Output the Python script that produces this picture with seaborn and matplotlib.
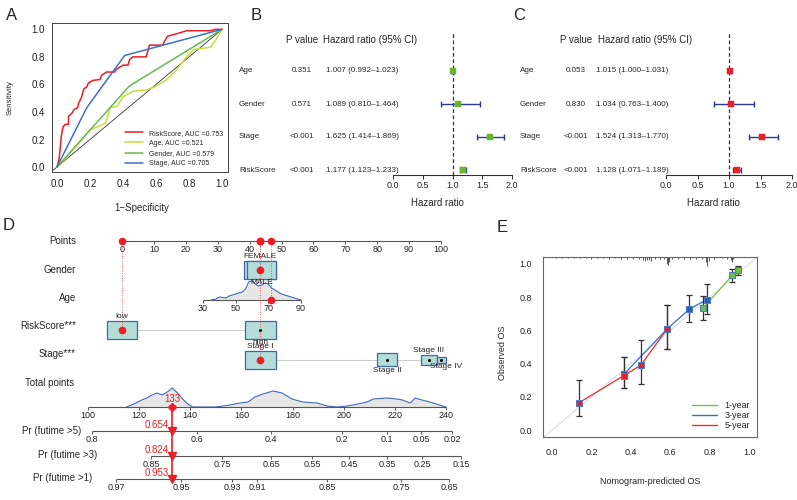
import numpy as np
import pandas as pd
import matplotlib
matplotlib.use('Agg')
import matplotlib.pyplot as plt
from matplotlib.patches import Rectangle
import seaborn as sns

sns.set_theme(style='white')
plt.rcParams['font.family'] = ['Liberation Sans', 'DejaVu Sans']

W, H = 797, 500

# ---------------- data: A (ROC curves) ----------------
roc_risk_fpr = [0, 0.012, 0.02, 0.026, 0.036, 0.05, 0.07, 0.07, 0.09, 0.105, 0.125, 0.13, 0.14, 0.15,
                0.158, 0.165, 0.18, 0.19, 0.22, 0.26, 0.27, 0.30, 0.35, 0.36, 0.40, 0.43, 0.44, 0.46,
                0.54, 0.55, 0.56, 0.64, 0.65, 0.67, 0.70, 0.745, 0.785, 0.93, 0.96, 1.0]
roc_risk_tpr = [0, 0.05, 0.14, 0.22, 0.29, 0.31, 0.31, 0.37, 0.39, 0.42, 0.43, 0.46, 0.485, 0.51,
                0.55, 0.57, 0.58, 0.61, 0.63, 0.635, 0.665, 0.69, 0.69, 0.71, 0.74, 0.74, 0.78, 0.80,
                0.80, 0.84, 0.885, 0.885, 0.91, 0.95, 0.96, 0.975, 0.99, 0.99, 1.0, 1.0]
roc_age_fpr = [0, 0.05, 0.10, 0.15, 0.20, 0.26, 0.29, 0.31, 0.32, 0.36, 0.37, 0.40, 0.46, 0.54,
               0.58, 0.66, 0.72, 0.785, 0.83, 0.87, 0.93, 0.96, 1.0]
roc_age_tpr = [0, 0.06, 0.13, 0.20, 0.27, 0.30, 0.315, 0.37, 0.43, 0.44, 0.45, 0.51, 0.55, 0.56,
               0.575, 0.63, 0.70, 0.80, 0.855, 0.86, 0.87, 0.92, 1.0]
roc_gender_fpr = [0, 0.44, 1.0]
roc_gender_tpr = [0, 0.59, 1.0]
roc_stage_fpr = [0, 0.18, 0.41, 1.0]
roc_stage_tpr = [0, 0.43, 0.81, 1.0]
roc_names = ['RiskScore, AUC =0.753', 'Age, AUC =0.521', 'Gender, AUC =0.579', 'Stage, AUC =0.705']
roc_colors = ['#ec1c24', '#c8dc3c', '#66bb4a', '#3a72c4']

# ---------------- data: B / C (Cox forest plots) ----------------
variables = ['Age', 'Gender', 'Stage', 'RiskScore']
uni_p = ['0.351', '0.571', '<0.001', '<0.001']
uni_hr = [1.007, 1.089, 1.625, 1.177]
uni_lo = [0.992, 0.810, 1.414, 1.123]
uni_hi = [1.023, 1.464, 1.869, 1.233]
multi_p = ['0.053', '0.830', '<0.001', '<0.001']
multi_hr = [1.015, 1.034, 1.524, 1.128]
multi_lo = [1.000, 0.763, 1.313, 1.071]
multi_hi = [1.031, 1.400, 1.770, 1.189]

# ---------------- data: D (nomogram) ----------------
points_ticks = list(range(0, 101, 10))
gender_levels = ['FEMALE', 'MALE']
gender_pts = [43.3, 43.8]
gender_w = [10.0, 9.0]
age_ticks = [30, 50, 70, 90]
age_dens_x = [35, 38, 40, 42, 44, 46, 48, 50, 52, 54, 56, 58, 60, 62, 64, 66, 68, 70, 72, 74,
              76, 78, 80, 82, 84, 86, 88, 90]
age_dens_h = [0, 1, 3, 2.5, 2, 4, 5, 6, 7, 8, 11, 18, 19, 16, 14, 15, 17, 16, 12, 10,
              8, 6, 5, 4, 3, 2, 1, 0]
risk_levels = ['low', 'high']
risk_pts = [0.0, 43.3]
risk_w = [9.4, 9.7]
stage_levels = ['Stage I', 'Stage II', 'Stage III', 'Stage IV']
stage_pts = [43.3, 83.1, 96.2, 100.1]
stage_w = [9.7, 6.3, 5.0, 2.8]
stage_h = [18, 13, 10, 6]
total_ticks = list(range(100, 241, 20))
total_dens_x = [115, 118, 121, 123, 125, 127, 129, 131, 133, 135, 137, 139, 141, 150, 153, 155.5,
                159.4, 162.6, 165.3, 168.4, 172.4, 175.9, 179.8, 184, 189.6, 193.5, 197.4, 201.3,
                205.6, 209.1, 211.6, 217, 220.8, 223, 226, 228, 230.6, 233.7, 238.8, 240]
total_dens_h = [0, 3, 7, 9, 12, 14, 12, 15, 19, 14, 8, 3, 0, 0, 1, 2,
                4, 5, 10, 13, 16, 14, 8, 5, 4, 1, 0, 1,
                3, 5, 8, 9, 8, 7, 4, 9, 7, 5, 1, 0]
pr5_labels = ['0.8', '0.6', '0.4', '0.2', '0.1', '0.05', '0.02']
pr5_at = [101.6, 142.6, 171.6, 199.3, 216.9, 230.2, 242.4]
pr3_labels = ['0.85', '0.75', '0.65', '0.55', '0.45', '0.35', '0.25', '0.15']
pr3_at = [124.6, 152.4, 171.6, 187.6, 202.1, 216.9, 230.6, 245.9]
pr1_labels = ['0.97', '0.95', '0.93', '0.91', '0.85', '0.75', '0.65']
pr1_at = [111.0, 136.4, 156.3, 166.1, 193.5, 222.4, 241.2]
patient_age = 71.5
patient_total = 133
patient_pr = ['0.654', '0.824', '0.953']

# ---------------- data: E (calibration) ----------------
cal_1y_x = [0.767, 0.915, 0.945]
cal_1y_y = [0.735, 0.932, 0.962]
cal_1y_lo = [0.665, 0.89, 0.935]
cal_1y_hi = [0.805, 0.972, 0.99]
cal_3y_x = [0.365, 0.585, 0.695, 0.785]
cal_3y_y = [0.336, 0.61, 0.726, 0.786]
cal_3y_lo = [0.255, 0.49, 0.65, 0.70]
cal_3y_hi = [0.44, 0.755, 0.815, 0.882]
cal_5y_x = [0.135, 0.365, 0.45, 0.585]
cal_5y_y = [0.163, 0.328, 0.39, 0.61]
cal_5y_lo = [0.085, 0.255, 0.277, 0.49]
cal_5y_hi = [0.30, 0.44, 0.545, 0.755]
spike_x = [0.02, 0.05, 0.08, 0.11, 0.14, 0.17, 0.20, 0.23, 0.26, 0.29, 0.32, 0.35, 0.38, 0.41,
           0.44, 0.46, 0.47, 0.48, 0.49, 0.50, 0.52, 0.55, 0.57, 0.585, 0.59, 0.595, 0.61, 0.64,
           0.67, 0.70, 0.73, 0.76, 0.78, 0.787, 0.795, 0.82, 0.86, 0.89, 0.91, 0.915, 0.92]
spike_h = [0.008, 0.006, 0.008, 0.006, 0.008, 0.006, 0.01, 0.006, 0.008, 0.01, 0.008, 0.01, 0.012, 0.01,
           0.015, 0.02, 0.025, 0.02, 0.018, 0.022, 0.012, 0.01, 0.015, 0.04, 0.05, 0.03, 0.012, 0.01,
           0.012, 0.015, 0.01, 0.012, 0.03, 0.055, 0.025, 0.01, 0.008, 0.01, 0.02, 0.03, 0.015]


def rect(l, t, r, b):
    return [l / W, 1 - b / H, (r - l) / W, (b - t) / H]


def ftext(x, y, s, **kw):
    fig.text(x / W, 1 - y / H, s, **kw)


fig = plt.figure(figsize=(W / 100, H / 100), dpi=100)

for lab, x, y in [('A', 6, 15), ('B', 251, 15), ('C', 513, 15), ('D', 3, 226), ('E', 497, 228)]:
    ftext(x, y, lab, fontsize=12, ha='left', va='center')

# ================= A =================
ax = fig.add_axes(rect(52, 23, 228, 172))
roc = pd.concat([
    pd.DataFrame({'fpr': f, 'tpr': t, 'curve': n})
    for f, t, n in zip([roc_risk_fpr, roc_age_fpr, roc_gender_fpr, roc_stage_fpr],
                       [roc_risk_tpr, roc_age_tpr, roc_gender_tpr, roc_stage_tpr], roc_names)
])
ax.plot([-0.05, 1], [-0.05, 1], color='#333333', lw=0.6)
sns.lineplot(data=roc, x='fpr', y='tpr', hue='curve', palette=dict(zip(roc_names, roc_colors)),
             sort=False, estimator=None, lw=1.1, ax=ax)
ax.set_xlim(-0.03, 1.036)
ax.set_ylim(-0.036, 1.046)
ticks = [0, 0.2, 0.4, 0.6, 0.8, 1.0]
ax.set_xticks(ticks)
ax.set_yticks(ticks)
ax.set_xticklabels(['%.1f' % t for t in ticks], fontsize=7)
ax.set_yticklabels(['%.1f' % t for t in ticks], fontsize=7)
ax.tick_params(direction='out', length=3, width=0.6, pad=2, colors='#222222')
for s in ax.spines.values():
    s.set_linewidth(0.7)
    s.set_color('#444444')
ax.set_xlabel('1\u2212Specificity', fontsize=7)
ax.set_ylabel('Sensitivity', fontsize=5.5)
ax.xaxis.set_label_coords(0.51, -0.21)
ax.yaxis.set_label_coords(-0.22, 0.5)
leg = ax.legend(loc='lower right', fontsize=5, frameon=False, handlelength=2.6,
                labelspacing=0.45, borderaxespad=0.3, handletextpad=0.8)
for l in leg.get_lines():
    l.set_linewidth(1.1)


# ================= B / C =================
def forest(x_lab, x_p, x_hr, x_head, ax_l, ax_r, p, hr, lo, hi, color):
    rows_y = [71, 104, 137, 170]
    ftext(x_p, 40, 'P value', fontsize=7, ha='center', va='center')
    ftext(x_head, 40, 'Hazard ratio (95% CI)', fontsize=7, ha='left', va='center')
    for v, pv, h, a, b, ry in zip(variables, p, hr, lo, hi, rows_y):
        ftext(x_lab, ry, v, fontsize=5.8, ha='left', va='center')
        ftext(x_p, ry, pv, fontsize=5.8, ha='center', va='center')
        ftext(x_hr, ry, '%.3f (%.3f\u2013%.3f)' % (h, a, b), fontsize=5.8, ha='left', va='center')
    axf = fig.add_axes(rect(ax_l, 33, ax_r, 175))
    rows = np.arange(len(variables))
    axf.set_xlim(0, 2)
    axf.set_ylim(3.15, -1.15)
    axf.axvline(1, color='#333333', ls=(0, (3, 2)), lw=0.9)
    hr_a, lo_a, hi_a = np.array(hr), np.array(lo), np.array(hi)
    axf.errorbar(hr_a, rows, xerr=[hr_a - lo_a, hi_a - hr_a], fmt='none', ecolor='#2b3a8c',
                 elinewidth=1.0, capsize=2.2, capthick=1.0)
    sns.scatterplot(x=hr, y=rows, marker='s', color=color, edgecolor=color, s=18, ax=axf,
                    zorder=5, legend=False)
    for s in ['top', 'right', 'left']:
        axf.spines[s].set_visible(False)
    axf.spines['bottom'].set_linewidth(0.8)
    axf.spines['bottom'].set_color('#333333')
    axf.set_yticks([])
    axf.set_xticks([0, 0.5, 1.0, 1.5, 2.0])
    axf.set_xticklabels(['0.0', '0.5', '1.0', '1.5', '2.0'], fontsize=6.5)
    axf.tick_params(axis='x', direction='out', length=3, width=0.7, pad=1.5, bottom=True)
    axf.set_xlabel('Hazard ratio', fontsize=7)
    axf.xaxis.set_label_coords(0.375, -0.165)
    axf.patch.set_alpha(0)


forest(239, 302, 326, 323, 393, 512, uni_p, uni_hr, uni_lo, uni_hi, '#6ab42f')
forest(520, 576, 596, 598, 666, 792, multi_p, multi_hr, multi_lo, multi_hi, '#e8202a')

# ================= D (nomogram) =================
axd = fig.add_axes(rect(0, 222, 470, 500))
axd.set_xlim((0 - 122) / 3.19, (470 - 122) / 3.19)
axd.set_ylim(500, 222)
axd.axis('off')


def px2pts(px):
    return (px - 122) / 3.19


def total_x(tp):
    return px2pts(88 + (np.asarray(tp, dtype=float) - 100) * 2.557)


def age_x(age):
    return 25.39 + (np.asarray(age, dtype=float) - 30) * 0.512


axis_c = '#555555'
box_fc = '#b3ddd6'
box_ec = '#3f68b3'
red = '#ee1c25'
tfs = 6.5


def nomo_axis(y, xs, labels, lo=None, hi=None):
    lo = min(xs) if lo is None else lo
    hi = max(xs) if hi is None else hi
    axd.hlines(y, lo, hi, color=axis_c, lw=0.8)
    axd.vlines(xs, y, y + 3, color=axis_c, lw=0.7)
    for x, lab in zip(xs, labels):
        axd.text(x, y + 4, lab, fontsize=tfs, ha='center', va='top', color='#222222')


def box(c, w, y, h, label=None, side='above', dot=False, dx=0):
    axd.add_patch(Rectangle((c - w / 2, y - h / 2), w, h, fc=box_fc, ec=box_ec, lw=0.9, zorder=3))
    if dot:
        axd.plot(c, y, marker='o', ms=1.2, color='black', zorder=4)
    if label:
        if side == 'above':
            axd.text(c + dx, y - h / 2 - 0.5, label, fontsize=6, ha='center', va='bottom', zorder=5)
        else:
            axd.text(c + dx, y + h / 2 + 0.3, label, fontsize=6, ha='center', va='top', zorder=5)


row_lab_x = px2pts(76)
y_points, y_gender, y_age, y_risk, y_stage = 241, 270, 300, 330, 360
y_total, y_pr5, y_pr3, y_pr1 = 407, 431, 456, 479

axd.text(row_lab_x, y_points, 'Points', fontsize=7, ha='right', va='center')
axd.text(row_lab_x, y_gender, 'Gender', fontsize=7, ha='right', va='center')
axd.text(row_lab_x, y_age - 2, 'Age', fontsize=7, ha='right', va='center')
axd.text(row_lab_x, y_risk - 4, 'RiskScore***', fontsize=7, ha='right', va='center')
axd.text(row_lab_x, y_stage - 6, 'Stage***', fontsize=7, ha='right', va='center')
axd.text(px2pts(25), 383, 'Total points', fontsize=7, ha='left', va='center')
axd.text(px2pts(81), y_pr5, 'Pr (futime >5)', fontsize=7, ha='right', va='center')
axd.text(px2pts(97), y_pr3 - 1, 'Pr (futime >3)', fontsize=7, ha='right', va='center')
axd.text(px2pts(92), y_pr1 - 1, 'Pr (futime >1)', fontsize=7, ha='right', va='center')

# points axis
nomo_axis(y_points, points_ticks, [str(t) for t in points_ticks])

# age density + axis
ax_x = age_x(age_dens_x)
axd.fill_between(ax_x, y_age, y_age - np.array(age_dens_h), color='#e6e6e6', lw=0, zorder=1)
axd.plot(ax_x, y_age - np.array(age_dens_h), color='#4169b8', lw=0.8, zorder=2)
nomo_axis(y_age, age_x(age_ticks), [str(t) for t in age_ticks])

# gender boxes
box(gender_pts[0], gender_w[0], y_gender, 18, gender_levels[0], 'above')
box(gender_pts[1], gender_w[1], y_gender, 18, gender_levels[1], 'below')

# risk score
axd.hlines(y_risk, risk_pts[0], risk_pts[1], color='#cccccc', lw=0.8, zorder=1)
box(risk_pts[0], risk_w[0], y_risk, 18, risk_levels[0], 'above')
box(risk_pts[1], risk_w[1], y_risk, 18, risk_levels[1], 'below', dot=True)

# stage
axd.hlines(y_stage, stage_pts[0], stage_pts[-1], color='#cccccc', lw=0.8, zorder=1)
sides = ['above', 'below', 'above', 'below']
for i, (lv, c, w, h, sd) in enumerate(zip(stage_levels, stage_pts, stage_w, stage_h, sides)):
    box(c, w, y_stage, h, lv, sd, dot=(i > 0), dx=(1.5 if i == 3 else 0))

# total points
tx = total_x(total_dens_x)
axd.fill_between(tx, y_total, y_total - np.array(total_dens_h), color='#e6e6e6', lw=0, zorder=1)
axd.plot(tx, y_total - np.array(total_dens_h), color='#4169b8', lw=0.8, zorder=2)
nomo_axis(y_total, total_x(total_ticks), [str(t) for t in total_ticks])

# probability axes
nomo_axis(y_pr5, total_x(pr5_at), pr5_labels)
nomo_axis(y_pr3, total_x(pr3_at), pr3_labels)
nomo_axis(y_pr1, total_x(pr1_at), pr1_labels)

# patient
pat_pts = [gender_pts[0], float(age_x(patient_age)), risk_pts[0], stage_pts[0]]
pat_rows = [y_gender, y_age, y_risk, y_stage]
for p_, r_ in zip(pat_pts, pat_rows):
    axd.vlines(p_, y_points, r_, color=red, lw=0.7, ls=(0, (1, 1.5)), alpha=0.7, zorder=4)
    axd.plot(p_, r_, 'o', color=red, ms=4.5, zorder=6)
    axd.plot(p_, y_points, 'o', color=red, ms=4.5, zorder=6)
xt = float(total_x(patient_total))
axd.vlines(xt, y_total, y_pr1, color=red, lw=1.2, zorder=5)
axd.plot(xt, y_total, 'D', color=red, ms=4, zorder=6)
axd.text(xt, y_total - 3, str(patient_total), color=red, fontsize=7, ha='center', va='bottom', zorder=7)
for yy, pv in zip([y_pr5, y_pr3, y_pr1], patient_pr):
    axd.plot(xt, yy, 'v', color=red, ms=5.5, zorder=6)
    axd.text(xt - 1.2, yy - 0.5, pv, color=red, fontsize=7, ha='right', va='bottom', zorder=7)

# ================= E (calibration) =================
axe = fig.add_axes(rect(543, 257, 757, 437))
axe.set_xlim(-0.046, 1.04)
axe.set_ylim(-0.042, 1.042)
axe.plot([-0.05, 1.05], [-0.05, 1.05], color='#dddddd', lw=0.8, zorder=1)
axe.vlines(spike_x, 1.042 - np.array(spike_h), 1.042, color='#555555', lw=0.7)
cal = pd.concat([
    pd.DataFrame({'x': cal_1y_x, 'y': cal_1y_y, 'year': '1-year'}),
    pd.DataFrame({'x': cal_3y_x, 'y': cal_3y_y, 'year': '3-year'}),
    pd.DataFrame({'x': cal_5y_x, 'y': cal_5y_y, 'year': '5-year'}),
])
cal_pal = {'1-year': '#7cc242', '3-year': '#3a6cc0', '5-year': '#ee2a2a'}
sns.lineplot(data=cal, x='x', y='y', hue='year', palette=cal_pal, sort=False, estimator=None,
             lw=0.9, ax=axe, zorder=3)
fills = {'1-year': '#6abf45', '3-year': '#2f5fb3', '5-year': '#e8202a'}
for (xs, ys, lo, hi), yr in zip([(cal_1y_x, cal_1y_y, cal_1y_lo, cal_1y_hi),
                                 (cal_3y_x, cal_3y_y, cal_3y_lo, cal_3y_hi),
                                 (cal_5y_x, cal_5y_y, cal_5y_lo, cal_5y_hi)], fills):
    ya = np.array(ys)
    axe.errorbar(xs, ys, yerr=[ya - np.array(lo), np.array(hi) - ya], fmt='none', ecolor='#333333',
                 elinewidth=0.9, capsize=2, capthick=0.9, zorder=4)
    axe.scatter(xs, ys, marker='s', s=18, color=fills[yr], edgecolor='#4a7acb', lw=0.7, zorder=5)
ticks = [0, 0.2, 0.4, 0.6, 0.8, 1.0]
axe.set_xticks(ticks)
axe.set_yticks(ticks)
axe.set_xticklabels(['%.1f' % t for t in ticks], fontsize=6.5)
axe.set_yticklabels(['%.1f' % t for t in ticks], fontsize=6.5)
axe.tick_params(direction='out', length=4, width=0.6, pad=4, colors='#222222')
for s in axe.spines.values():
    s.set_linewidth(0.8)
    s.set_color('#666666')
axe.set_xlabel('Nomogram-predicted OS', fontsize=6.5)
axe.set_ylabel('Observed OS', fontsize=6.5)
axe.xaxis.set_label_coords(0.5, -0.22)
axe.yaxis.set_label_coords(-0.17, 0.47)
leg = axe.legend(loc='lower right', fontsize=6.5, frameon=False, handlelength=2.8,
                 labelspacing=0.1, borderaxespad=0.4, handletextpad=0.8)
for l in leg.get_lines():
    l.set_linewidth(1.0)

fig.savefig('out.png', dpi=100)
